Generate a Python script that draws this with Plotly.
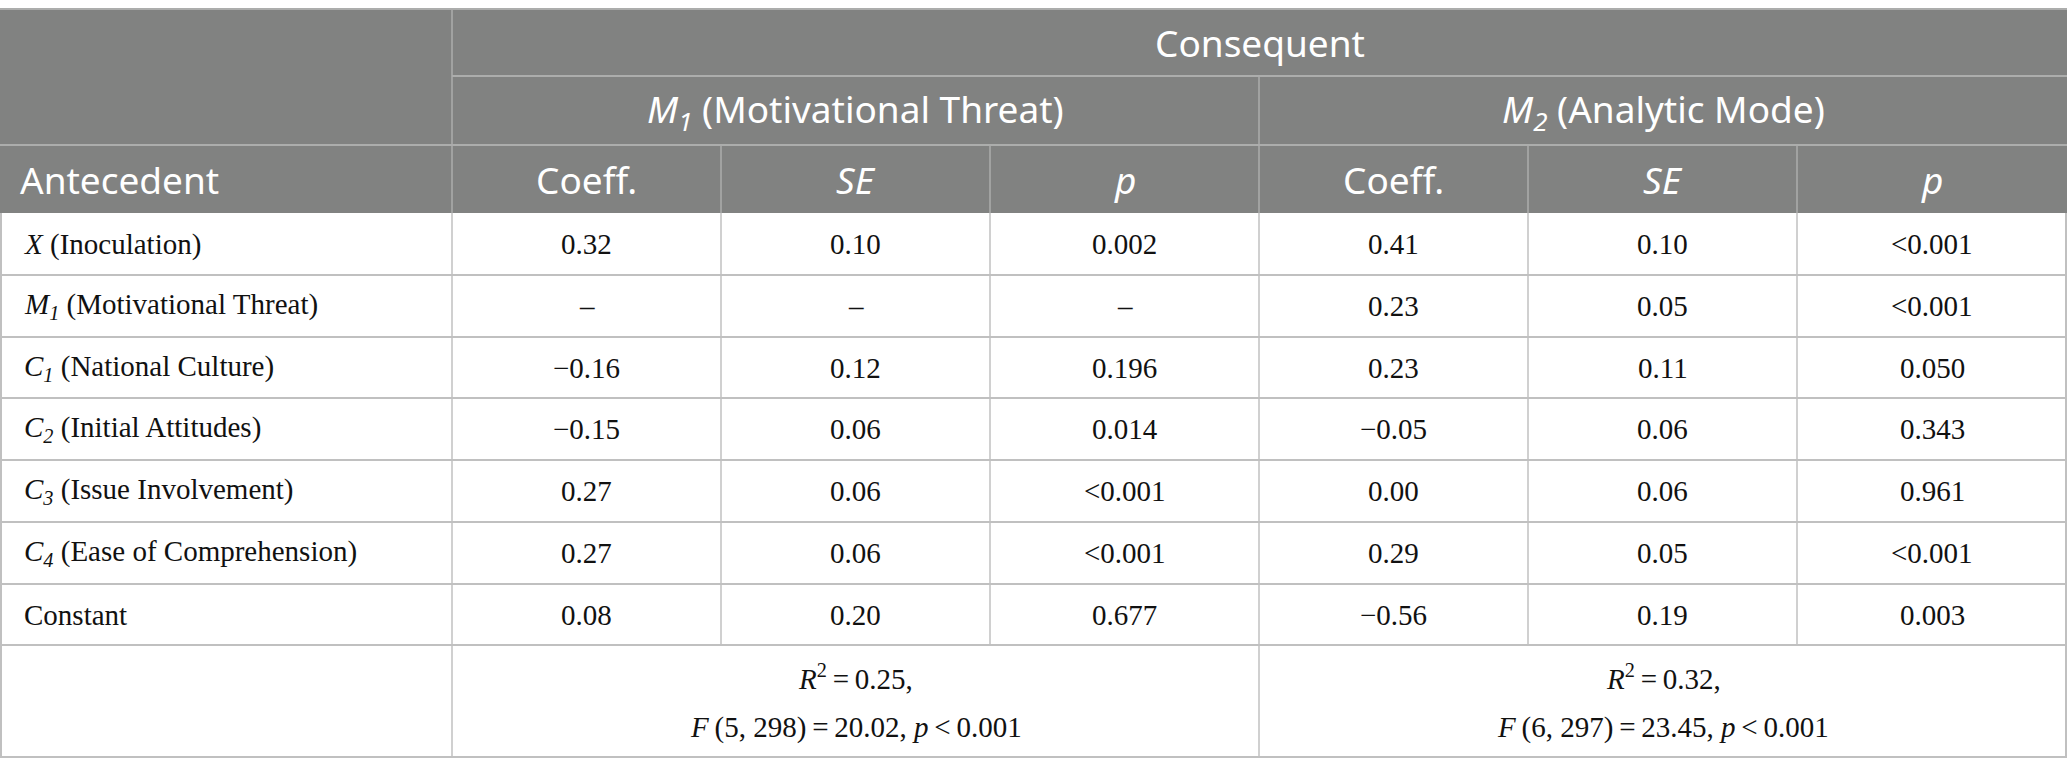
import plotly.graph_objects as go

# ---------------- data ----------------
group_title = "Consequent"
models = ["<i>M<sub>1</sub></i> (Motivational Threat)", "<i>M<sub>2</sub></i> (Analytic Mode)"]
stat_headers = ["Coeff.", "<i>SE</i>", "<i>p</i>"]
stub_header = "Antecedent"

antecedents = [
    "<i>X</i> (Inoculation)",
    "<i>M<sub>1</sub></i> (Motivational Threat)",
    "<i>C<sub>1</sub></i> (National Culture)",
    "<i>C<sub>2</sub></i> (Initial Attitudes)",
    "<i>C<sub>3</sub></i> (Issue Involvement)",
    "<i>C<sub>4</sub></i> (Ease of Comprehension)",
    "Constant",
]
m1_coeff = ["0.32", "–", "−0.16", "−0.15", "0.27", "0.27", "0.08"]
m1_se = ["0.10", "–", "0.12", "0.06", "0.06", "0.06", "0.20"]
m1_p = ["0.002", "–", "0.196", "0.014", "&lt;0.001", "&lt;0.001", "0.677"]
m2_coeff = ["0.41", "0.23", "0.23", "−0.05", "0.00", "0.29", "−0.56"]
m2_se = ["0.10", "0.05", "0.11", "0.06", "0.06", "0.05", "0.19"]
m2_p = ["&lt;0.001", "&lt;0.001", "0.050", "0.343", "0.961", "&lt;0.001", "0.003"]

m1_fit = ["<i>R</i><sup>2</sup>\u2009=\u20090.25,",
          "<i>F</i>\u2009(5, 298)\u2009=\u200920.02, <i>p</i>\u2009&lt;\u20090.001"]
m2_fit = ["<i>R</i><sup>2</sup>\u2009=\u20090.32,",
          "<i>F</i>\u2009(6, 297)\u2009=\u200923.45, <i>p</i>\u2009&lt;\u20090.001"]

# ---------------- layout geometry (page pixel coordinates) ----------------
PAGE_W, PAGE_H = 2067, 775
col_edges = [0, 452, 721, 990, 1259, 1528, 1797, 2067]
head_edges = [9, 76, 145, 213]
row_edges = [213, 275, 337, 398, 460, 522, 584, 645, 757]

HEAD_BG = "#818281"
HEAD_LINE = "#acadac"
BODY_LINE = "#c0c0c0"
HEAD_FONT = dict(family="Noto Sans", size=37, color="white")
BODY_FONT = dict(family="Liberation Serif", size=29, color="#111111")

shapes = []
annotations = []

def line(x0, y0, x1, y1, color, width):
    shapes.append(dict(type="line", xref="x", yref="y", x0=x0, y0=y0, x1=x1, y1=y1,
                       line=dict(color=color, width=width), layer="above"))

def text(x, y, s, font, anchor="center"):
    annotations.append(dict(x=x, y=y, xref="x", yref="y", text=s, showarrow=False,
                            xanchor=anchor, yanchor="middle", font=font))

# header background
shapes.append(dict(type="rect", xref="x", yref="y", x0=col_edges[0] - 2, x1=col_edges[-1] + 2,
                   y0=head_edges[0], y1=head_edges[-1], fillcolor=HEAD_BG,
                   line=dict(width=0), layer="below"))

# header lines
line(col_edges[0], head_edges[0], col_edges[-1], head_edges[0], HEAD_LINE, 2)
line(col_edges[1], head_edges[1], col_edges[-1], head_edges[1], HEAD_LINE, 2)
line(col_edges[0], head_edges[2], col_edges[-1], head_edges[2], HEAD_LINE, 2)
line(col_edges[1], head_edges[0], col_edges[1], head_edges[3], HEAD_LINE, 1.5)
line(col_edges[4], head_edges[1], col_edges[4], head_edges[3], HEAD_LINE, 1.5)
for c in [2, 3, 5, 6]:
    line(col_edges[c], head_edges[2], col_edges[c], head_edges[3], HEAD_LINE, 1.5)

# header text
text((col_edges[1] + col_edges[-1]) / 2, (head_edges[0] + head_edges[1]) / 2, group_title, HEAD_FONT)
text((col_edges[1] + col_edges[4]) / 2, (head_edges[1] + head_edges[2]) / 2, models[0], HEAD_FONT)
text((col_edges[4] + col_edges[7]) / 2, (head_edges[1] + head_edges[2]) / 2, models[1], HEAD_FONT)
text(col_edges[0] + 18, (head_edges[2] + head_edges[3]) / 2, stub_header, HEAD_FONT, anchor="left")
for i in range(6):
    c = i + 1
    text((col_edges[c] + col_edges[c + 1]) / 2, (head_edges[2] + head_edges[3]) / 2,
         stat_headers[i % 3], HEAD_FONT)

# body grid
for y in row_edges[1:]:
    line(col_edges[0], y, col_edges[-1], y, BODY_LINE, 2)
line(col_edges[0] + 1, row_edges[0], col_edges[0] + 1, row_edges[-1], BODY_LINE, 2)
line(col_edges[-1] - 1, row_edges[0], col_edges[-1] - 1, row_edges[-1], BODY_LINE, 2)
for c in range(1, 7):
    y_end = row_edges[-1] if c in (1, 4) else row_edges[-2]
    line(col_edges[c], row_edges[0], col_edges[c], y_end, BODY_LINE, 1.5)

# body text
columns = [m1_coeff, m1_se, m1_p, m2_coeff, m2_se, m2_p]
for r, name in enumerate(antecedents):
    yc = (row_edges[r] + row_edges[r + 1]) / 2
    text(col_edges[0] + 22, yc, name, BODY_FONT, anchor="left")
    for i, col in enumerate(columns):
        c = i + 1
        text((col_edges[c] + col_edges[c + 1]) / 2, yc, col[r], BODY_FONT)

# model fit row
y0, y1 = row_edges[-2], row_edges[-1]
for fit, (a, b) in [(m1_fit, (col_edges[1], col_edges[4])), (m2_fit, (col_edges[4], col_edges[7]))]:
    text((a + b) / 2, y0 + 32, fit[0], BODY_FONT)
    text((a + b) / 2, y0 + 82, fit[1], BODY_FONT)

fig = go.Figure()
fig.update_layout(
    width=PAGE_W, height=PAGE_H,
    margin=dict(l=0, r=0, t=0, b=0),
    paper_bgcolor="white", plot_bgcolor="white",
    xaxis=dict(range=[0, PAGE_W], visible=False, fixedrange=True),
    yaxis=dict(range=[PAGE_H, 0], visible=False, fixedrange=True),
    shapes=shapes, annotations=annotations, showlegend=False,
)
fig.write_html("out.html",
               config={"displayModeBar": False, "staticPlot": True},
               post_script="document.body.style.margin='0';document.body.style.overflow='hidden';")
